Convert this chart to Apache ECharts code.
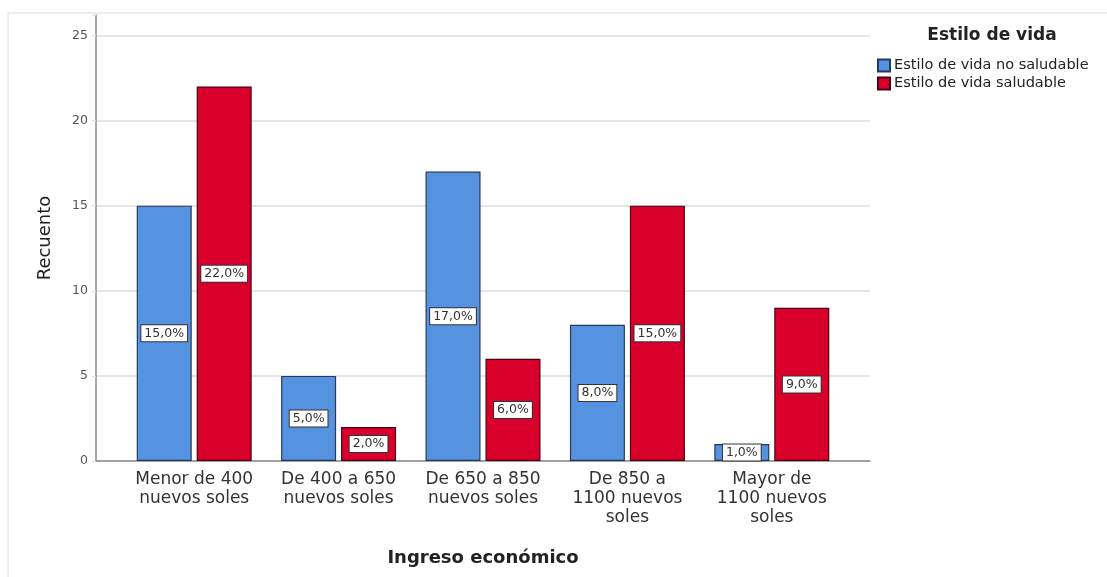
<!DOCTYPE html>
<html>
<head>
<meta charset="utf-8">
<script src="https://cdn.jsdelivr.net/npm/echarts@6/dist/echarts.min.js"></script>
<style>
  html, body { margin: 0; padding: 0; background: #fff; }
  #chart { width: 1107px; height: 577px; }
</style>
</head>
<body>
<div id="chart"></div>
<script>
// Income brackets (x axis) and counts per lifestyle group
const categories = [
  'Menor de 400\nnuevos soles',
  'De 400 a 650\nnuevos soles',
  'De 650 a 850\nnuevos soles',
  'De 850 a\n1100 nuevos\nsoles',
  'Mayor de\n1100 nuevos\nsoles'
];
const seriesNames = ['Estilo de vida no saludable', 'Estilo de vida saludable'];
const noSaludable = [15, 5, 17, 8, 1];
const saludable = [22, 2, 6, 15, 9];
const yTicks = [0, 5, 10, 15, 20, 25];

const total = noSaludable.concat(saludable).reduce((a, b) => a + b, 0);
const pct = v => (v / total * 100).toFixed(1).replace('.', ',') + '%';

const Y_MAX = 26.2;
const FONT = '"DejaVu Sans", Arial, sans-serif';

const barLabel = {
  show: true,
  position: 'inside',
  formatter: p => pct(p.value),
  color: '#333',
  fontSize: 12.5,
  fontFamily: FONT,
  backgroundColor: '#fff',
  borderColor: '#333',
  borderWidth: 1,
  padding: [2, 3, 1, 3]
};

const chart = echarts.init(document.getElementById('chart'), null, { renderer: 'canvas' });

chart.setOption({
  animation: false,
  backgroundColor: '#fff',
  title: {
    text: 'Estilo de vida',
    left: 987,
    top: 22,
    textAlign: 'center',
    textStyle: { fontSize: 17, fontWeight: 'bold', color: '#222', fontFamily: FONT }
  },
  legend: {
    data: seriesNames,
    orient: 'vertical',
    left: 872,
    top: 53,
    itemWidth: 12,
    itemHeight: 12,
    itemGap: 3,
    icon: 'rect',
    textStyle: { fontSize: 14.5, color: '#222', fontFamily: FONT, padding: [0, 0, 0, -1] }
  },
  graphic: [
    { type: 'line', shape: { x1: 8, y1: 13, x2: 1107, y2: 13 }, style: { stroke: '#dcdcdc', lineWidth: 1 } },
    { type: 'line', shape: { x1: 8, y1: 13, x2: 8, y2: 577 }, style: { stroke: '#dcdcdc', lineWidth: 1 } }
  ],
  grid: [
    // frame grid: value axis, gridlines and baseline
    { left: 96, right: 237, top: 15, bottom: 116 },
    // bars grid: inset inside the frame
    { left: 122, right: 263, top: 15, bottom: 116 }
  ],
  xAxis: [
    {
      gridIndex: 0, type: 'value', min: 0, max: 1,
      axisLine: { show: true, onZero: false, lineStyle: { color: '#8a8a8a', width: 1.5 } },
      axisTick: { show: false }, axisLabel: { show: false }, splitLine: { show: false }
    },
    {
      gridIndex: 1, type: 'category', data: categories,
      axisLine: { show: false }, axisTick: { show: false },
      axisLabel: { margin: 9, fontSize: 17, lineHeight: 19, color: '#333', fontFamily: FONT, interval: 0 },
      name: 'Ingreso económico', nameLocation: 'middle', nameGap: 88,
      nameTextStyle: { fontSize: 18, fontWeight: 'bold', color: '#222', fontFamily: FONT }
    }
  ],
  yAxis: [
    {
      gridIndex: 0, type: 'value', min: 0, max: Y_MAX, interval: 5,
      axisLine: { show: true, lineStyle: { color: '#8a8a8a', width: 1.5 } },
      axisTick: { show: true, length: 4, lineStyle: { color: '#ddd' } },
      axisLabel: {
        margin: 8, fontSize: 12.5, color: '#555', fontFamily: FONT,
        formatter: v => (yTicks.indexOf(v) >= 0 ? String(v) : '')
      },
      splitLine: {
        show: true,
        lineStyle: { color: ['#dcdcdc', '#dcdcdc', '#dcdcdc', '#dcdcdc', '#dcdcdc', '#dcdcdc', 'rgba(0,0,0,0)'], width: 1.5 }
      },
      name: 'Recuento', nameLocation: 'middle', nameGap: 42, nameRotate: 90,
      nameTextStyle: { fontSize: 18, color: '#222', fontFamily: FONT }
    },
    {
      gridIndex: 1, type: 'value', min: 0, max: Y_MAX, interval: 5, show: false,
      splitLine: { show: false }
    }
  ],
  series: [
    {
      name: seriesNames[0], type: 'bar', xAxisIndex: 1, yAxisIndex: 1,
      data: noSaludable, barWidth: 55, barGap: '9%',
      itemStyle: { color: '#5592df', borderColor: '#243a5e', borderWidth: 1.2 },
      label: barLabel
    },
    {
      name: seriesNames[1], type: 'bar', xAxisIndex: 1, yAxisIndex: 1,
      data: saludable, barWidth: 55, barGap: '9%',
      itemStyle: { color: '#d9002b', borderColor: '#4a0012', borderWidth: 1.2 },
      label: barLabel
    }
  ]
});
</script>
</body>
</html>
